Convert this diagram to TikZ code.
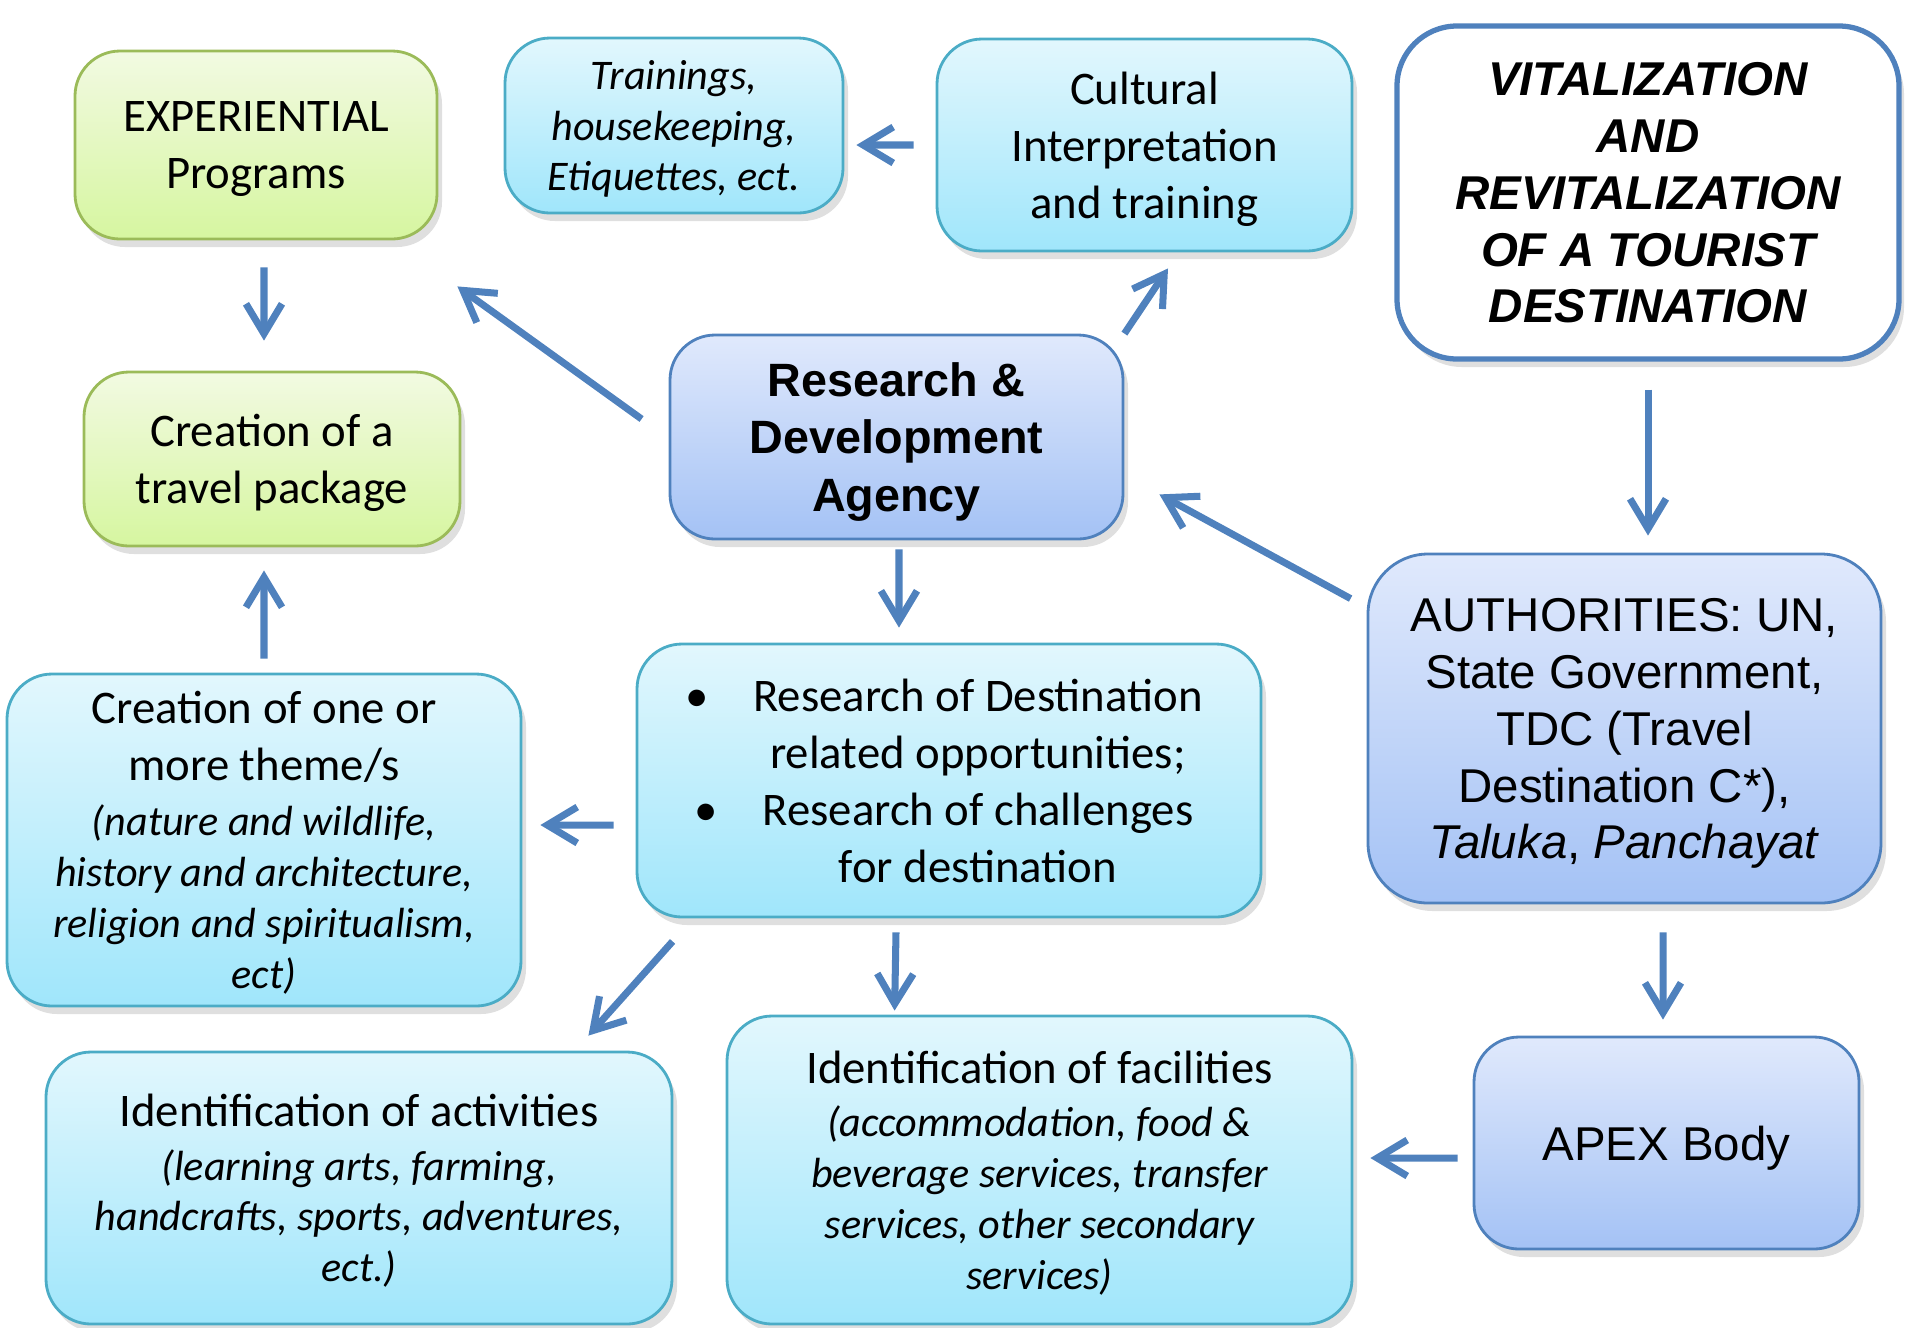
\documentclass[tikz,border=0pt]{standalone}
\usepackage{fontspec}
\setmainfont{Carlito}
\newfontfamily\arialfont{Liberation Sans}
\usetikzlibrary{arrows.meta, positioning, shadows}

\definecolor{arrowblue}{RGB}{79,129,189}
\definecolor{cyanline}{RGB}{75,172,198}
\definecolor{cyantop}{RGB}{226,247,253}
\definecolor{cyanbot}{RGB}{160,230,251}
\definecolor{greenline}{RGB}{155,187,89}
\definecolor{greentop}{RGB}{242,250,226}
\definecolor{greenbot}{RGB}{214,246,160}
\definecolor{blueline}{RGB}{79,129,189}
\definecolor{bluetop}{RGB}{224,233,252}
\definecolor{bluebot}{RGB}{164,194,245}

\newcommand{\smallit}{\fontsize{12}{14.5}\selectfont\itshape}
\newcommand{\mainsize}{\fontsize{13.3}{16.2}\selectfont}
\newcommand{\arialsize}{\arialfont\fontsize{13.5}{16.2}\selectfont}

\begin{document}
\begin{tikzpicture}[
        box/.style={
            draw,
            rounded corners=4.5mm,
            line width=0.8pt,
            align=center,
            inner sep=2pt,
            text depth=0pt,
            font=\mainsize,
            drop shadow={shadow xshift=0.5mm, shadow yshift=-0.8mm, opacity=0.25}
        },
        cyanbox/.style={box, draw=cyanline, top color=cyantop, bottom color=cyanbot},
        greenbox/.style={box, draw=greenline, top color=greentop, bottom color=greenbot},
        bluebox/.style={box, draw=blueline, top color=bluetop, bottom color=bluebot},
        arr/.style={draw=arrowblue, line width=2pt, -{Straight Barb[length=3mm, width=3.6mm]}}
    ]
        \useasboundingbox (0,0) rectangle (19.05,-13.27);

        % top row
        \node[greenbox, minimum width=3.62cm, minimum height=1.88cm] (exp) at (2.56,-1.45) {EXPERIENTIAL\\Programs};
        \node[cyanbox, font=\smallit, minimum width=3.38cm, minimum height=1.75cm] (train) at (6.74,-1.255)
            {Trainings,\\housekeeping,\\Etiquettes, ect.};
        \node[cyanbox, minimum width=4.15cm, minimum height=2.12cm] (cult) at (11.445,-1.45)
            {Cultural\\Interpretation\\and training};
        \node[box, draw=blueline, fill=white, line width=1.5pt, rounded corners=6mm,
            font=\arialsize\bfseries\itshape, minimum width=5.02cm, minimum height=3.33cm] (vital) at (16.48,-1.925)
            {VITALIZATION\\AND\\REVITALIZATION\\OF A TOURIST\\DESTINATION};

        % middle row
        \node[greenbox, minimum width=3.76cm, minimum height=1.74cm] (pkg) at (2.72,-4.59) {Creation of a\\travel package};
        \node[bluebox, font=\arialfont\fontsize{13.3}{16.4}\selectfont\bfseries,
            minimum width=4.53cm, minimum height=2.04cm] (rd) at (8.965,-4.37)
            {Research \&\\Development\\Agency};
        \node[bluebox, font=\arialsize, rounded corners=6mm, minimum width=5.13cm, minimum height=3.49cm] (auth) at (16.245,-7.285)
            {AUTHORITIES: UN,\\State Government,\\TDC (Travel\\Destination C*),\\\textit{Taluka}, \textit{Panchayat}};
        \node[cyanbox, minimum width=5.14cm, minimum height=3.32cm] (theme) at (2.64,-8.40)
            {Creation of one or\\more theme/s\\[-0.6pt]\smallit (nature and wildlife,\\[-1.7pt]\smallit history and architecture,\\[-1.7pt]\smallit religion and spiritualism,\\[-1.7pt]\smallit ect)};
        \node[cyanbox, minimum width=6.24cm, minimum height=2.73cm] (resb) at (9.49,-7.805)
            {\hspace*{0.58cm}\llap{\textbullet\hspace{0.45cm}}Research of Destination\\
             \hspace*{0.58cm}related opportunities;\\
             \hspace*{0.58cm}\llap{\textbullet\hspace{0.45cm}}Research of challenges\\
             \hspace*{0.58cm}for destination};

        % bottom row
        \node[cyanbox, minimum width=6.26cm, minimum height=2.72cm] (act) at (3.59,-11.88)
            {Identification of activities\\[-1pt]\smallit (learning arts, farming,\\[-1.7pt]\smallit handcrafts, sports, adventures,\\[-1.7pt]\smallit ect.)};
        \node[cyanbox, minimum width=6.25cm, minimum height=3.08cm] (fac) at (10.395,-11.70)
            {Identification of facilities\\[-1pt]\smallit (accommodation, food \&\\[-1.7pt]\smallit beverage services, transfer\\[-1.7pt]\smallit services, other secondary\\[-1.7pt]\smallit services)};
        \node[bluebox, font=\arialsize, minimum width=3.85cm, minimum height=2.12cm] (apex) at (16.665,-11.43) {APEX Body};

        % arrows
        \draw[arr] ([shift={(0.08,-0.27)}]exp.south) -- ([shift={(-0.08,0.30)}]pkg.north);
        \draw[arr] ([shift={(0,0.14)}]theme.north) -- ([shift={(-0.08,-0.23)}]pkg.south);
        \draw[arr] ([shift={(-0.27,0.18)}]rd.west) -- ([shift={(0.19,-0.46)}]exp.south east);
        \draw[arr] (rd.north east) -- ([shift={(0.235,-0.16)}]cult.south);
        \draw[arr] ([shift={(-0.22,0)}]cult.west) -- ([shift={(0.12,-0.195)}]train.east);
        \draw[arr] ([shift={(0,-0.28)}]vital.south) -- ([shift={(0.235,0.17)}]auth.north);
        \draw[arr] ([shift={(-0.16,-0.46)}]auth.north west) -- ([shift={(0.35,0.46)}]rd.south east);
        \draw[arr] ([shift={(0.025,-0.09)}]rd.south) -- ([shift={(-0.5,0.15)}]resb.north);
        \draw[arr] ([shift={(-0.22,-0.445)}]resb.west) -- ([shift={(0.18,0.15)}]theme.east);
        \draw[arr] ([shift={(0.37,-0.23)}]resb.south west) -- ([shift={(-0.85,0.15)}]act.north east);
        \draw[arr] ([shift={(-0.53,-0.14)}]resb.south) -- ([shift={(1.69,0.04)}]fac.north west);
        \draw[arr] ([shift={(0.385,-0.28)}]auth.south) -- ([shift={(-0.035,0.16)}]apex.north);
        \draw[arr] ([shift={(-0.15,-0.15)}]apex.west) -- ([shift={(0.17,0.12)}]fac.east);
    \end{tikzpicture}
\end{document}
